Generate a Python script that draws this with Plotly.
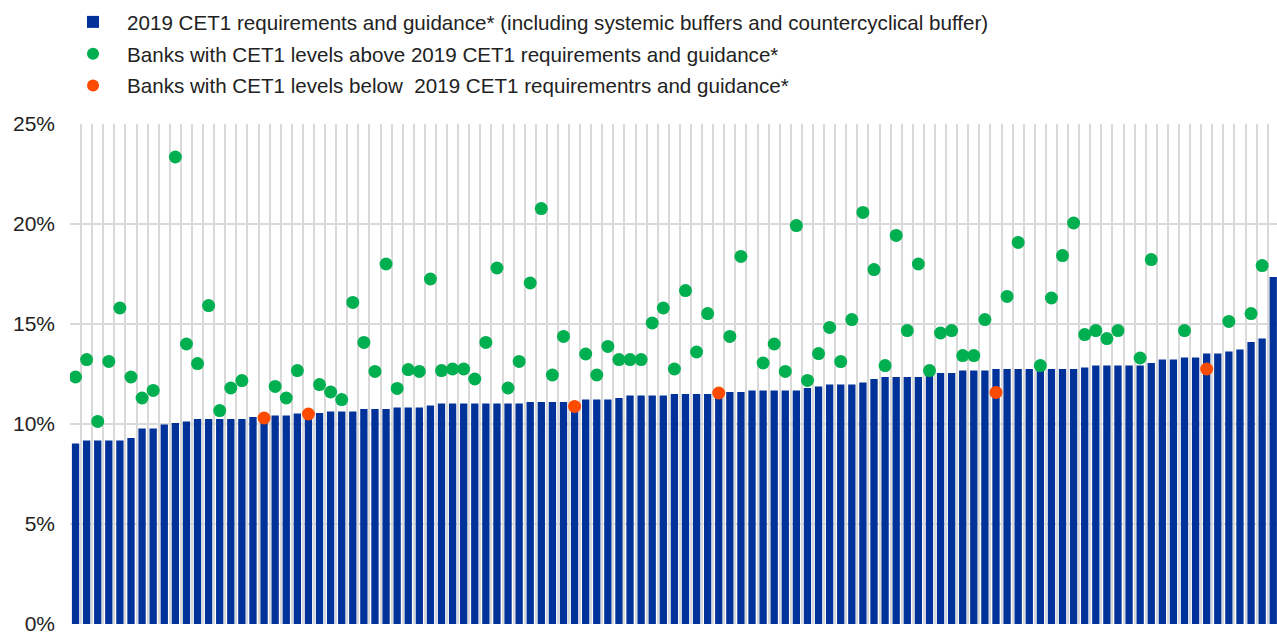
import plotly.graph_objects as go

# Bank index (one slot per bank, sorted by requirement)
banks = list(range(109))

# 2019 CET1 requirements and guidance (%), one per bank
requirements = [
    9.02, 9.18, 9.18, 9.18, 9.18, 9.30, 9.77, 9.77, 9.97, 10.05,
    10.13, 10.25, 10.25, 10.25, 10.25, 10.25, 10.35, 10.40, 10.43, 10.43,
    10.52, 10.55, 10.55, 10.63, 10.63, 10.63, 10.75, 10.75, 10.75, 10.83,
    10.83, 10.83, 10.93, 11.02, 11.02, 11.02, 11.02, 11.02, 11.02, 11.02,
    11.02, 11.10, 11.10, 11.10, 11.10, 11.10, 11.22, 11.22, 11.22, 11.30,
    11.42, 11.42, 11.42, 11.42, 11.50, 11.50, 11.50, 11.50, 11.60, 11.60,
    11.60, 11.68, 11.68, 11.68, 11.68, 11.68, 11.80, 11.88, 11.97, 11.97,
    11.97, 12.08, 12.25, 12.35, 12.35, 12.35, 12.35, 12.55, 12.55, 12.55,
    12.67, 12.67, 12.67, 12.75, 12.75, 12.75, 12.75, 12.75, 12.75, 12.75,
    12.75, 12.83, 12.93, 12.93, 12.93, 12.93, 12.93, 13.05, 13.22, 13.22,
    13.33, 13.33, 13.52, 13.52, 13.62, 13.72, 14.10, 14.27, 17.35,
]

# CET1 levels of banks above requirements (%), None = no dot in that slot
above = [
    12.35, 13.22, 10.13, 13.13, 15.80, 12.35, 11.30, 11.68, None, 23.35,
    14.00, 13.02, 15.92, 10.67, 11.80, 12.17, None, None, 11.88, 11.30,
    12.67, None, 11.97, 11.60, 11.22, 16.08, 14.08, 12.63, 18.00, 11.78,
    12.72, 12.63, 17.25, 12.67, 12.75, 12.75, 12.25, 14.08, 17.80, 11.80,
    13.13, 17.05, 20.77, 12.45, 14.38, None, 13.50, 12.45, 13.88, 13.22,
    13.22, 13.22, 15.05, 15.80, 12.75, 16.67, 13.60, 15.52, None, 14.38,
    18.38, None, 13.05, 14.00, 12.63, 19.92, 12.18, 13.52, 14.83, 13.12,
    15.22, 20.58, 17.72, 12.92, 19.43, 14.67, 18.00, 12.67, 14.55, 14.67,
    13.42, 13.42, 15.22, None, 16.38, 19.08, None, 12.92, 16.30, 18.42,
    20.05, 14.47, 14.67, 14.27, 14.67, None, 13.30, 18.22, None, None,
    14.67, None, None, None, 15.13, None, 15.52, 17.92, None,
]

# CET1 levels of banks below requirements (%)
below = [None] * 109
below_points = {17: 10.30, 21: 10.50, 45: 10.88, 58: 11.55, 83: 11.58, 102: 12.75}
for k, v in below_points.items():
    below[k] = v

y_ticks = [0, 5, 10, 15, 20, 25]
y_tick_labels = ["0%", "5%", "10%", "15%", "20%", "25%"]

FONT = "Liberation Sans, Arial, sans-serif"
BLUE = "#003299"
GREEN = "#00b050"
ORANGE = "#ff4b00"

fig = go.Figure()
fig.add_trace(go.Bar(
    x=banks, y=requirements, width=0.66,
    marker=dict(color=BLUE, line=dict(width=0)),
    name="2019 CET1 requirements and guidance* (including systemic buffers and countercyclical buffer)",
    legendgroup="a",
))
fig.add_trace(go.Scatter(
    x=banks, y=above, mode="markers",
    marker=dict(color=GREEN, size=13),
    name="Banks with CET1 levels above 2019 CET1 requirements and guidance*",
    legendgroup="b",
))
fig.add_trace(go.Scatter(
    x=banks, y=below, mode="markers",
    marker=dict(color=ORANGE, size=13),
    name="Banks with CET1 levels below  2019 CET1 requirementrs and guidance*",
    legendgroup="c",
))

fig.update_layout(
    width=1277, height=634,
    margin=dict(l=70, r=0, t=124, b=10, autoexpand=False),
    paper_bgcolor="white", plot_bgcolor="white",
    font=dict(family=FONT, size=20, color="#222222"),
    showlegend=True,
    legend=dict(
        x=-0.0091, y=1.244, xanchor="left", yanchor="top",
        font=dict(family=FONT, size=20.6, color="#222222"),
        bgcolor="rgba(0,0,0,0)", traceorder="grouped", tracegroupgap=2,
        itemsizing="constant", itemwidth=58,
    ),
    xaxis=dict(
        range=[-0.5, 108.34],
        tickvals=[i - 0.5 for i in range(len(banks) + 1)],
        showticklabels=False, ticks="",
        showgrid=True, gridcolor="#d9d9d9", gridwidth=2,
        zeroline=False, showline=False, automargin=False,
    ),
    yaxis=dict(
        range=[0, 25],
        tickvals=y_ticks, ticktext=y_tick_labels,
        showgrid=True, gridcolor="#d9d9d9", gridwidth=2,
        zeroline=False, showline=False, ticks="",
        ticklabelstandoff=14, automargin=False,
        ticklabeloverflow="allow",
        tickfont=dict(family=FONT, size=21, color="#222222"),
    ),
)

# Remove the default page margin so the figure fills the window exactly.
fig.write_html(
    "out.html",
    config={"displayModeBar": False},
    post_script="document.body.style.margin='0';document.body.style.overflow='hidden';",
)
